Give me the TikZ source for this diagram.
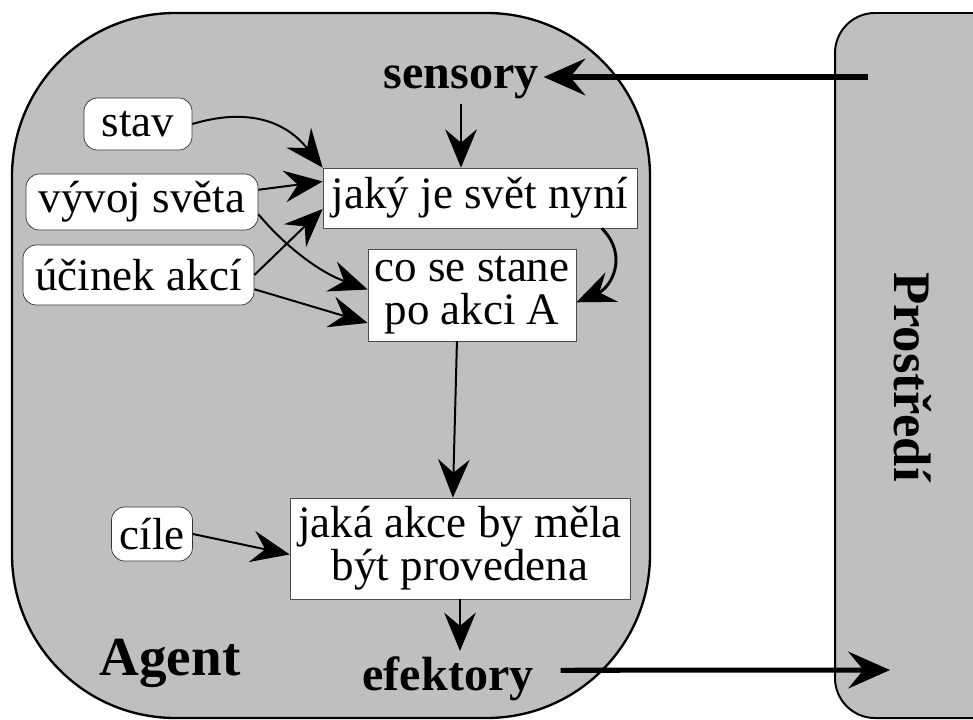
\documentclass[tikz,border=0pt]{standalone}
\usepackage{fontspec}
\setmainfont{Liberation Serif}
\usepackage{xcolor}
\usetikzlibrary{arrows.meta,calc}

\definecolor{agentgray}{RGB}{191,191,191}

\begin{document}
\begin{tikzpicture}[x=0.3mm, y=-0.3mm,
    memory/.style={draw=black!80, line width=0.6pt, fill=white, rounded corners=4mm, inner sep=0pt, font=\fontsize{38.4}{38.4}\selectfont},
    procbox/.style={draw=black!70, line width=0.6pt, fill=white, inner sep=0pt, align=center, font=\fontsize{38.4}{37}\selectfont},
    boldlabel/.style={inner sep=1.5mm, font=\fontsize{41}{41}\selectfont\bfseries},
    arr/.style={line width=1.7pt, -{Stealth[length=11.5mm, width=9.5mm, inset=4mm]}},
    bigarr/.style={line width=4.3pt, -{Stealth[length=12.5mm, width=11mm, inset=4.5mm]}}]
        \useasboundingbox (0,0) rectangle (973,720);
        \clip (0,0) rectangle (973,720);

        % Agent and environment
        \draw[line width=2pt, fill=agentgray, rounded corners=49mm] (12,13) rectangle (650,718);
        \draw[line width=1.7pt, fill=agentgray, rounded corners=12mm] (835,13) rectangle (1040,718);

        % Labels
        \node[boldlabel, anchor=base] (sensory) at (461,88) {sensory};
        \node[boldlabel, anchor=base] (efektory) at (448,690) {efektory};
        \node[font=\fontsize{47}{47}\selectfont\bfseries, anchor=base] (agent) at (170,675) {Agent};
        \node[font=\fontsize{45}{45}\selectfont\bfseries, rotate=-90] (prostredi) at (913,377) {Prostředí};
        \coordinate (envin) at (868,77);
        \coordinate (envout) at (890,670);

        % Processing steps
        \node[procbox, minimum width=94.2mm, minimum height=18mm] (jaky) at (480,198) {jaký je svět nyní};
        \node[procbox, minimum width=62.4mm, minimum height=27.6mm] (co) at (472,295) {co se stane\\po akci A};
        \node[procbox, minimum width=102mm, minimum height=30.3mm] (jaka) at (460,548.5) {jaká akce by měla\\být provedena};

        % Knowledge
        \node[memory, minimum width=32.4mm, minimum height=15.6mm] (stav) at (138,124) {stav};
        \node[memory, minimum width=69.6mm, minimum height=16.8mm] (vyvoj) at (142,202) {vývoj světa};
        \node[memory, minimum width=69.3mm, minimum height=18mm] (ucinek) at (138.5,275) {účinek akcí};
        \node[memory, minimum width=24.3mm, minimum height=16.2mm] (cile) at (152,534) {cíle};

        % Arrows
        \draw[bigarr] (envin) -- (sensory.east |- envin);
        \draw[arr] (sensory.south) -- (sensory.south |- jaky.north);
        \draw[arr] (stav.east) .. controls +(50,-15) and +(-40,-50) .. (jaky.north west);
        \draw[arr] (vyvoj.6) -- (jaky.174);
        \draw[arr] (vyvoj.-6) .. controls +(25,30) and +(-50,-18) .. (co.177);
        \draw[arr] (ucinek.0) -- (jaky.184);
        \draw[arr] (ucinek.-7) -- (co.195);
        \draw[arr, line width=2.5pt] (jaky.-14) .. controls +(27,27) and +(35,-15) .. (co.-4);
        \draw[arr] (co.252) -- (jaka.98);
        \draw[arr] (cile.east) -- (jaka.182);
        \draw[arr] (jaka.south) -- (jaka.south |- efektory.north);
        \draw[bigarr] ($(efektory.east)+(22,-8)$) -- (envout);
    \end{tikzpicture}
\end{document}
